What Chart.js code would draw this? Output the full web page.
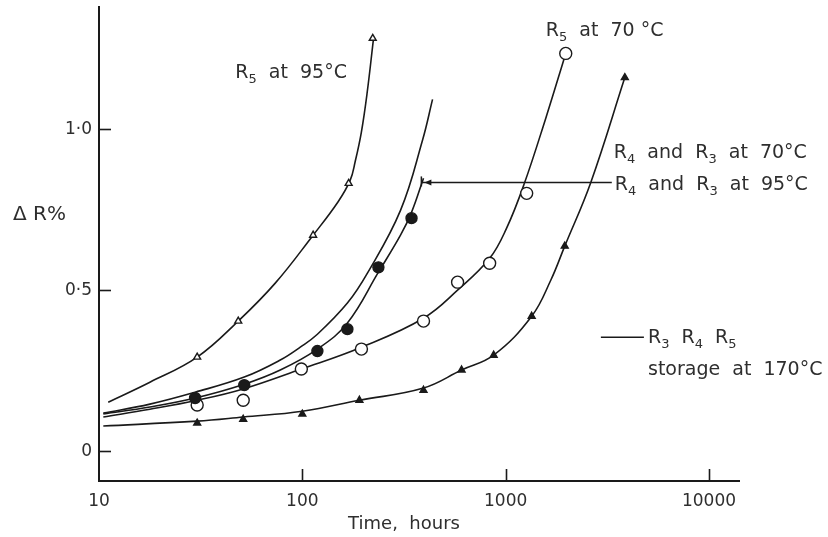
<!DOCTYPE html>
<html>
<head>
<meta charset="utf-8">
<script src="https://cdn.jsdelivr.net/npm/chart.js@4"></script>
<style>
  html, body { margin: 0; padding: 0; background: #fff; }
  #wrap { width: 828px; height: 537px; }
</style>
</head>
<body>
<div id="wrap"><canvas id="myChart"></canvas></div>
<script>
// tick values
const xTicks = [10, 100, 1000, 10000];
const yTicks = [0, 0.5, 1.0];

// R5 at 95 C (open triangles)
const r5at95Times = [30.4, 48.4, 113, 169, 222];
const r5at95Vals = [0.292, 0.404, 0.671, 0.832, 1.283];
const r5at95CurveT = [11.1, 17.8, 30.4, 48.4, 73.6, 113, 150, 172, 182, 195, 208, 224];
const r5at95CurveV = [0.152, 0.214, 0.292, 0.404, 0.522, 0.671, 0.775, 0.842, 0.900, 0.990, 1.110, 1.283];

// R4 and R3 at 70 C (curve only)
const r43at70CurveT = [10.5, 17.8, 29.7, 51.8, 77.9, 97.7, 118.6, 166.6, 209, 304, 390, 437];
const r43at70CurveV = [0.118, 0.146, 0.183, 0.230, 0.283, 0.323, 0.363, 0.460, 0.553, 0.748, 0.966, 1.093];

// R4 and R3 at 95 C (filled circles)
const r43at95Times = [29.7, 51.8, 118.6, 166.6, 236.7, 344.4];
const r43at95Vals = [0.165, 0.205, 0.311, 0.379, 0.571, 0.724];
const r43at95CurveT = [10.5, 17.8, 29.7, 51.8, 77.9, 118.6, 166.6, 236.7, 304, 344.4, 394.5];
const r43at95CurveV = [0.115, 0.137, 0.165, 0.208, 0.252, 0.317, 0.398, 0.556, 0.671, 0.742, 0.848];

// R5 at 70 C (open circles)
const r5at70Times = [30.4, 51.2, 98.9, 195.3, 394.5, 580.2, 834.2, 1268.9, 1975];
const r5at70Vals = [0.143, 0.158, 0.255, 0.317, 0.404, 0.525, 0.584, 0.801, 1.236];
const r5at70CurveT = [10.5, 17.8, 30.4, 51.2, 98.9, 195.3, 394.5, 580.2, 834.2, 1011, 1226.7, 1574, 1975];
const r5at70CurveV = [0.106, 0.130, 0.158, 0.193, 0.255, 0.323, 0.413, 0.500, 0.599, 0.693, 0.826, 1.034, 1.236];

// R3 R4 R5 storage at 170 C (filled triangles)
const storTimes = [30.4, 51.2, 100, 190.9, 394.5, 607.2, 872.9, 1343, 1952.7, 3856];
const storVals = [0.087, 0.099, 0.115, 0.158, 0.189, 0.252, 0.298, 0.419, 0.637, 1.161];
const storCurveT = [10.5, 30.4, 51.2, 100, 190.9, 394.5, 607.2, 872.9, 1343, 1666.6, 1952.7, 2622.6, 3856];
const storCurveV = [0.078, 0.093, 0.106, 0.124, 0.158, 0.196, 0.252, 0.298, 0.419, 0.531, 0.637, 0.835, 1.161];

const INK = '#1a1a1a';
const TXT = '#2e2e2e';
const FONT = 'DejaVu Sans';

const pts = (xs, ys) => xs.map((x, i) => ({x: x, y: ys[i]}));

function curve(xs, ys) {
  return {
    type: 'line', data: pts(xs, ys), borderColor: INK, borderWidth: 1.6,
    pointRadius: 0, tension: 0.4, fill: false, order: 2
  };
}
function marks(xs, ys, style, r, fill) {
  return {
    type: 'scatter', data: pts(xs, ys), showLine: false, pointStyle: style,
    pointRadius: r, backgroundColor: fill, borderColor: INK, borderWidth: 1.4,
    order: 1, clip: false
  };
}

// labels on the plot, "_" marks a subscript char
const notes = [
  {x: 46.8, y: 1.161, text: 'R_5  at  95°C'},
  {x: 1574, y: 1.289, text: 'R_5  at  70 °C'},
  {x: 3404, y: 0.910, text: 'R_4  and  R_3  at  70°C'},
  {x: 3443, y: 0.811, text: 'R_4  and  R_3  at  95°C'},
  {x: 5012, y: 0.335, text: 'R_3  R_4  R_5'},
  {x: 5012, y: 0.236, text: 'storage  at  170°C'}
];
const leaders = [
  {x1: 385, x2: 3327, y: 0.835, arrow: true},
  {x1: 2940, x2: 4786, y: 0.354, arrow: false}
];

function drawRich(ctx, text, x, y) {
  let cx = x;
  for (let i = 0; i < text.length; i++) {
    let ch = text[i], sub = false;
    if (ch === '_') { sub = true; ch = text[++i]; }
    ctx.font = (sub ? '13px ' : '19px ') + FONT;
    ctx.fillText(ch, cx, sub ? y + 5 : y);
    cx += ctx.measureText(ch).width;
  }
}

const notesPlugin = {
  id: 'notes',
  afterDraw(chart) {
    const {ctx, scales: {x, y}, chartArea} = chart;
    ctx.save();
    // inward tick marks
    ctx.strokeStyle = INK;
    ctx.lineWidth = 1.6;
    yTicks.forEach(v => {
      const py = Math.round(y.getPixelForValue(v)) + 0.5;
      ctx.beginPath(); ctx.moveTo(chartArea.left, py); ctx.lineTo(chartArea.left + 12, py); ctx.stroke();
    });
    xTicks.slice(1).forEach(v => {
      const px = Math.round(x.getPixelForValue(v)) + 0.5;
      ctx.beginPath(); ctx.moveTo(px, chartArea.bottom); ctx.lineTo(px, chartArea.bottom - 12); ctx.stroke();
    });
    // leader lines
    ctx.lineWidth = 1.5;
    leaders.forEach(l => {
      const a = x.getPixelForValue(l.x1), b = x.getPixelForValue(l.x2), py = y.getPixelForValue(l.y);
      ctx.beginPath(); ctx.moveTo(a, py); ctx.lineTo(b, py); ctx.stroke();
      if (l.arrow) {
        ctx.beginPath(); ctx.moveTo(a, py - 6); ctx.lineTo(a, py + 4); ctx.stroke();
        ctx.beginPath(); ctx.moveTo(a + 3, py); ctx.lineTo(a + 10, py - 3); ctx.lineTo(a + 10, py + 3);
        ctx.closePath(); ctx.fillStyle = INK; ctx.fill();
      }
    });
    // text
    ctx.fillStyle = TXT;
    ctx.textBaseline = 'alphabetic';
    ctx.textAlign = 'left';
    notes.forEach(n => drawRich(ctx, n.text, x.getPixelForValue(n.x), y.getPixelForValue(n.y)));
    ctx.font = '20px ' + FONT;
    ctx.fillText('\u0394 R%', 13, 220);
    ctx.textAlign = 'center';
    ctx.font = '18px ' + FONT;
    ctx.fillText('Time,  hours', 404, 529);
    ctx.restore();
  }
};

const config = {
  data: {
    datasets: [
      curve(r5at95CurveT, r5at95CurveV),
      curve(r43at70CurveT, r43at70CurveV),
      curve(r43at95CurveT, r43at95CurveV),
      curve(r5at70CurveT, r5at70CurveV),
      curve(storCurveT, storCurveV),
      marks(r5at95Times, r5at95Vals, 'triangle', 4, '#fff'),
      marks(r43at95Times, r43at95Vals, 'circle', 5.5, INK),
      marks(r5at70Times, r5at70Vals, 'circle', 6, '#fff'),
      marks(storTimes, storVals, 'triangle', 4, INK)
    ]
  },
  options: {
    responsive: true,
    maintainAspectRatio: false,
    animation: false,
    layout: { padding: { left: 0, right: 89, top: 7, bottom: 0 } },
    plugins: { legend: { display: false }, tooltip: { enabled: false } },
    scales: {
      x: {
        type: 'logarithmic', min: 10, max: 14050,
        grid: { display: false, drawTicks: false },
        border: { display: true, color: INK, width: 2 },
        afterBuildTicks: s => { s.ticks = xTicks.map(v => ({value: v})); },
        afterFit: s => { s.height = 56; s.paddingLeft = 0; s.paddingRight = 0; },
        ticks: {
          color: TXT, padding: 10, maxRotation: 0, autoSkip: false,
          font: { family: FONT, size: 17 },
          callback: v => String(v)
        }
      },
      y: {
        type: 'linear', min: -0.093, max: 1.379,
        grid: { display: false, drawTicks: false },
        border: { display: true, color: INK, width: 2 },
        afterBuildTicks: s => { s.ticks = yTicks.map(v => ({value: v})); },
        afterFit: s => { s.width = 99; s.paddingTop = 0; s.paddingBottom = 0; },
        ticks: {
          color: TXT, padding: 7,
          font: { family: FONT, size: 17 },
          callback: v => v === 0 ? '0' : v.toFixed(1).replace('.', '\u00b7')
        }
      }
    }
  },
  plugins: [notesPlugin]
};

const myChart = new Chart(document.getElementById('myChart'), config);
</script>
</body>
</html>
